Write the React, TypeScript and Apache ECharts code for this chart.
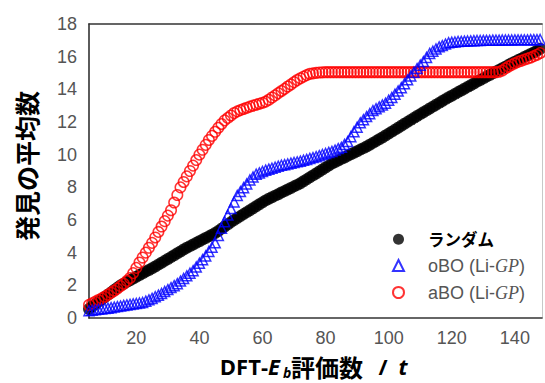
import React, { useEffect, useRef } from 'react';
import * as echarts from 'echarts';

// evaluation count t (x values)
const tValues = [
  5, 6, 7, 8, 9, 10, 11, 12, 13, 14,
  15, 16, 17, 18, 19, 20, 21, 22, 23, 24,
  25, 26, 27, 28, 29, 30, 31, 32, 33, 34,
  35, 36, 37, 38, 39, 40, 41, 42, 43, 44,
  45, 46, 47, 48, 49, 50, 51, 52, 53, 54,
  55, 56, 57, 58, 59, 60, 61, 62, 63, 64,
  65, 66, 67, 68, 69, 70, 71, 72, 73, 74,
  75, 76, 77, 78, 79, 80, 81, 82, 83, 84,
  85, 86, 87, 88, 89, 90, 91, 92, 93, 94,
  95, 96, 97, 98, 99, 100, 101, 102, 103, 104,
  105, 106, 107, 108, 109, 110, 111, 112, 113, 114,
  115, 116, 117, 118, 119, 120, 121, 122, 123, 124,
  125, 126, 127, 128, 129, 130, 131, 132, 133, 134,
  135, 136, 137, 138, 139, 140, 141, 142, 143, 144,
  145, 146, 147, 148,
];

// ランダム (random)
const randomValues = [
  0.55, 0.70, 0.85, 1.00, 1.14, 1.29, 1.43, 1.57, 1.71, 1.86,
  2.00, 2.10, 2.21, 2.31, 2.42, 2.52, 2.63, 2.73, 2.84, 2.94,
  3.05, 3.15, 3.27, 3.38, 3.50, 3.61, 3.73, 3.84, 3.96, 4.07,
  4.19, 4.30, 4.40, 4.50, 4.60, 4.70, 4.80, 4.90, 5.00, 5.10,
  5.20, 5.33, 5.47, 5.60, 5.73, 5.87, 6.00, 6.12, 6.24, 6.36,
  6.48, 6.60, 6.72, 6.84, 6.96, 7.08, 7.20, 7.30, 7.39, 7.49,
  7.58, 7.68, 7.77, 7.87, 7.96, 8.06, 8.15, 8.25, 8.37, 8.49,
  8.61, 8.73, 8.85, 8.97, 9.09, 9.21, 9.33, 9.45, 9.55, 9.64,
  9.74, 9.83, 9.93, 10.02, 10.12, 10.21, 10.31, 10.40, 10.50, 10.61,
  10.72, 10.83, 10.94, 11.05, 11.17, 11.29, 11.41, 11.53, 11.65, 11.77,
  11.89, 12.01, 12.13, 12.25, 12.37, 12.48, 12.60, 12.71, 12.83, 12.94,
  13.06, 13.17, 13.29, 13.40, 13.51, 13.61, 13.72, 13.83, 13.93, 14.04,
  14.15, 14.25, 14.36, 14.47, 14.57, 14.67, 14.78, 14.88, 14.98, 15.09,
  15.19, 15.29, 15.39, 15.50, 15.60, 15.69, 15.79, 15.88, 15.98, 16.07,
  16.17, 16.26, 16.36, 16.48,
];

// oBO (Li-GP)
const oboValues = [
  0.45, 0.48, 0.50, 0.53, 0.55, 0.58, 0.60, 0.63, 0.67, 0.70,
  0.73, 0.77, 0.80, 0.83, 0.86, 0.89, 0.92, 0.95, 1.03, 1.11,
  1.20, 1.30, 1.40, 1.50, 1.62, 1.74, 1.86, 1.98, 2.10, 2.26,
  2.42, 2.58, 2.74, 2.90, 3.12, 3.35, 3.57, 3.80, 4.07, 4.33,
  4.60, 5.05, 5.50, 5.90, 6.30, 6.70, 7.10, 7.50, 7.74, 7.98,
  8.21, 8.45, 8.63, 8.80, 8.88, 8.97, 9.05, 9.11, 9.17, 9.23,
  9.29, 9.35, 9.39, 9.43, 9.48, 9.52, 9.56, 9.60, 9.66, 9.71,
  9.77, 9.82, 9.88, 9.94, 10.01, 10.07, 10.14, 10.20, 10.28, 10.37,
  10.45, 10.62, 10.80, 11.10, 11.40, 11.68, 11.95, 12.14, 12.33, 12.51,
  12.70, 12.81, 12.93, 13.04, 13.15, 13.33, 13.50, 13.70, 13.90, 14.10,
  14.34, 14.58, 14.81, 15.05, 15.27, 15.48, 15.70, 15.95, 16.20, 16.33,
  16.47, 16.60, 16.68, 16.77, 16.85, 16.88, 16.90, 16.93, 16.94, 16.95,
  16.96, 16.97, 16.98, 16.99, 16.99, 17.00, 17.00, 17.00, 17.01, 17.01,
  17.01, 17.02, 17.02, 17.02, 17.02, 17.03, 17.03, 17.03, 17.03, 17.03,
  17.04, 17.04, 17.04, 17.05,
];

// aBO (Li-GP)
const aboValues = [
  0.80, 0.90, 1.00, 1.10, 1.20, 1.30, 1.42, 1.55, 1.67, 1.80,
  1.95, 2.10, 2.27, 2.45, 2.75, 3.07, 3.40, 3.70, 4.00, 4.30,
  4.60, 4.93, 5.27, 5.60, 5.93, 6.27, 6.60, 7.07, 7.53, 8.00,
  8.33, 8.67, 9.00, 9.33, 9.67, 10.00, 10.30, 10.60, 10.90, 11.15,
  11.40, 11.65, 11.88, 12.10, 12.25, 12.40, 12.55, 12.65, 12.73, 12.80,
  12.87, 12.94, 13.00, 13.06, 13.12, 13.18, 13.25, 13.36, 13.50, 13.63,
  13.77, 13.90, 14.03, 14.17, 14.30, 14.44, 14.57, 14.68, 14.78, 14.87,
  14.95, 14.98, 15.01, 15.03, 15.04, 15.05, 15.05, 15.05, 15.05, 15.05,
  15.05, 15.05, 15.05, 15.05, 15.05, 15.05, 15.05, 15.05, 15.05, 15.05,
  15.05, 15.05, 15.05, 15.05, 15.05, 15.05, 15.05, 15.05, 15.05, 15.05,
  15.05, 15.05, 15.05, 15.05, 15.05, 15.05, 15.05, 15.05, 15.05, 15.05,
  15.05, 15.05, 15.05, 15.05, 15.05, 15.05, 15.05, 15.05, 15.05, 15.05,
  15.05, 15.05, 15.05, 15.05, 15.05, 15.05, 15.05, 15.05, 15.05, 15.05,
  15.08, 15.15, 15.28, 15.40, 15.50, 15.60, 15.68, 15.75, 15.82, 15.88,
  15.95, 16.03, 16.12, 16.22,
];

const xTickLabels = [20, 40, 60, 80, 100, 120, 140];
const yMin = 0;
const yMax = 18;
const yInterval = 2;

const seriesNames = ['ランダム', 'oBO (Li-GP)', 'aBO (Li-GP)'];

const toPairs = (vals: number[]) => vals.map((v, i) => [tValues[i], v]);

const LATIN = '"Liberation Sans", Arial, sans-serif';
const CJK = '"Noto Sans CJK JP", "Noto Sans", sans-serif';
const OPEN = '"Open Sans", "Noto Sans", sans-serif';

const titleText = (x: number, y: number, text: string, extra: Record<string, unknown>) => ({
  type: 'text',
  x,
  y,
  style: {
    text,
    fill: '#000',
    fontWeight: 'bold',
    fontFamily: OPEN,
    fontSize: 22,
    verticalAlign: 'middle',
    align: 'left',
    ...extra,
  },
});

export default function App() {
  const ref = useRef<HTMLDivElement>(null);

  useEffect(() => {
    if (!ref.current) return;
    const chart = echarts.init(ref.current, null, { renderer: 'svg' });
    const axisLineStyle = { color: '#333', width: 1.6 };
    chart.setOption({
      animation: false,
      backgroundColor: '#fff',
      grid: { left: 89, top: 24, right: 3, bottom: 65 },
      xAxis: [
        {
          type: 'value',
          min: 5,
          max: 148.6,
          position: 'bottom',
          axisLine: { show: true, onZero: false, lineStyle: axisLineStyle },
          axisTick: { show: false },
          splitLine: { show: false },
          axisLabel: {
            customValues: xTickLabels,
            color: '#555',
            fontSize: 18,
            fontFamily: LATIN,
            margin: 11,
          },
        },
        {
          type: 'value',
          min: 5,
          max: 148.6,
          position: 'top',
          axisLine: { show: true, onZero: false, lineStyle: axisLineStyle },
          axisTick: { show: false },
          splitLine: { show: false },
          axisLabel: { show: false },
        },
      ],
      yAxis: [
        {
          type: 'value',
          min: yMin,
          max: yMax,
          interval: yInterval,
          axisLine: { show: true, onZero: false, lineStyle: axisLineStyle },
          axisTick: { show: false },
          splitLine: { show: false },
          axisLabel: {
            color: '#555',
            fontSize: 18,
            fontFamily: LATIN,
            margin: 12,
          },
        },
        {
          type: 'value',
          min: yMin,
          max: yMax,
          position: 'right',
          axisLine: { show: true, onZero: false, lineStyle: { color: '#c8c8c8', width: 1 } },
          axisTick: { show: false },
          splitLine: { show: false },
          axisLabel: { show: false },
        },
      ],
      legend: {
        orient: 'vertical',
        left: 387,
        top: 226,
        itemWidth: 11,
        itemHeight: 11,
        itemGap: 9,
        selectedMode: false,
        data: [
          {
            name: seriesNames[0],
            textStyle: { fontWeight: 'bold', color: '#000', fontSize: 16.5, fontFamily: CJK, padding: [0, 0, 0, 19] },
          },
          { name: seriesNames[1] },
          { name: seriesNames[2] },
        ],
        formatter: (name: string) => {
          if (name === seriesNames[0]) return name;
          const head = name.split(' ')[0];
          return `{n|${head} (Li-}{i|GP}{n|)}`;
        },
        textStyle: {
          fontSize: 18,
          color: '#555',
          fontFamily: LATIN,
          padding: [0, 0, 0, 19],
          rich: {
            n: { fontSize: 18, color: '#555', fontFamily: LATIN },
            i: { fontSize: 18, color: '#555', fontFamily: '"Liberation Serif", serif', fontStyle: 'italic' },
          },
        },
      },
      graphic: [
        {
          type: 'text',
          x: 25.5,
          y: 166,
          rotation: Math.PI / 2,
          style: {
            text: '発見の平均数',
            fontSize: 25,
            fontWeight: 'bold',
            fontFamily: CJK,
            fill: '#000',
            align: 'center',
            verticalAlign: 'middle',
          },
        },
        titleText(268, 366, 'DFT-', { align: 'right' }),
        titleText(268, 366, 'E', { fontStyle: 'italic' }),
        titleText(283, 372, 'b', { fontStyle: 'italic', fontSize: 14 }),
        titleText(291, 366, '評価数', { fontFamily: CJK, fontSize: 24 }),
        titleText(383, 366, '/', { align: 'center' }),
        titleText(403, 366, 't', { align: 'center', fontStyle: 'italic' }),
      ],
      series: [
        {
          name: seriesNames[0],
          type: 'scatter',
          data: toPairs(randomValues),
          symbol: 'circle',
          symbolSize: 12,
          itemStyle: { color: '#000' },
          z: 2,
        },
        {
          name: seriesNames[2],
          type: 'scatter',
          data: toPairs(aboValues),
          symbol: 'circle',
          symbolSize: 10.5,
          itemStyle: { color: 'rgba(255,255,255,0)', borderColor: '#ff0000', borderWidth: 1.5 },
          z: 3,
        },
        {
          name: seriesNames[1],
          type: 'scatter',
          data: toPairs(oboValues),
          symbol: 'triangle',
          symbolSize: 10,
          itemStyle: { color: 'rgba(255,255,255,0)', borderColor: '#0000ff', borderWidth: 1.5 },
          z: 4,
        },
      ],
    });
    return () => chart.dispose();
  }, []);

  return (
    <div
      ref={ref}
      style={{ position: 'absolute', left: 0, top: 0, width: 545, height: 383 }}
    />
  );
}
